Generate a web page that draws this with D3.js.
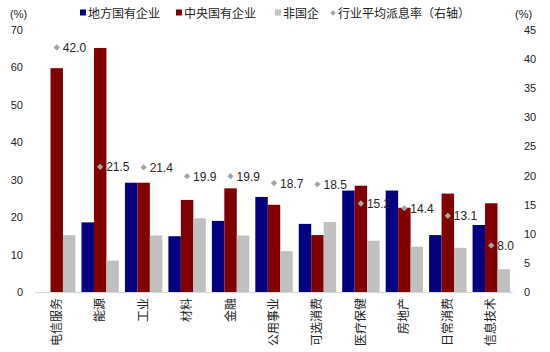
<!DOCTYPE html>
<html>
<head>
<meta charset="utf-8">
<script src="https://cdn.jsdelivr.net/npm/d3@7"></script>
<style>
  body { margin: 0; background: #fff; }
  svg text { font-family: "Liberation Sans", Arial, "Noto Sans CJK SC", sans-serif; }
</style>
</head>
<body>
<div id="chart"></div>
<script>
var categories = ["电信服务", "能源", "工业", "材料", "金融", "公用事业", "可选消费", "医疗保健", "房地产", "日常消费", "信息技术"];
var seriesNames = ["地方国有企业", "中央国有企业", "非国企"];
var localSOE = [0, 18.6, 29.2, 14.9, 19.0, 25.4, 18.2, 27.1, 27.1, 15.2, 17.9];
var centralSOE = [59.8, 65.2, 29.2, 24.6, 27.7, 23.3, 15.2, 28.4, 22.5, 26.3, 23.7];
var nonSOE = [15.2, 8.4, 15.1, 19.7, 15.1, 10.9, 18.7, 13.7, 12.1, 11.8, 6.1];
var payout = [42.0, 21.5, 21.4, 19.9, 19.9, 18.7, 18.5, 15.2, 14.4, 13.1, 8.0];
var leftTicks = [0, 10, 20, 30, 40, 50, 60, 70];
var rightTicks = [0, 5, 10, 15, 20, 25, 30, 35, 40, 45];
var colors = ["#000080", "#800000", "#c0c0c0"];

var width = 550, height = 352;
var svg = d3.select("#chart").append("svg")
  .attr("width", width)
  .attr("height", height);

var x0 = d3.scaleBand().domain(categories).range([35, 513]).paddingInner(0.14).paddingOuter(0.07);
var x1 = d3.scaleBand().domain(seriesNames).range([0, x0.bandwidth()]);
var yL = d3.scaleLinear().domain([0, 70]).range([292, 30]);
var yR = d3.scaleLinear().domain([0, 45]).range([292, 30]);

var rows = categories.map(function (c, i) {
  return { cat: c, vals: [localSOE[i], centralSOE[i], nonSOE[i]], payout: payout[i] };
});

// bars
var groups = svg.selectAll("g.grp")
  .data(rows).enter()
  .append("g")
  .attr("class", "grp")
  .attr("transform", d => "translate(" + x0(d.cat) + ",0)");

groups.selectAll("rect")
  .data(d => d.vals.map((v, j) => ({ v: v, s: seriesNames[j], j: j })))
  .enter().append("rect")
  .attr("x", d => x1(d.s))
  .attr("y", d => yL(d.v))
  .attr("width", x1.bandwidth())
  .attr("height", d => yL(0) - yL(d.v))
  .attr("fill", d => colors[d.j]);

// x axis line
svg.append("line")
  .attr("x1", 35).attr("x2", 513)
  .attr("y1", yL(0) + 0.5).attr("y2", yL(0) + 0.5)
  .attr("stroke", "#d9d9d9");

// left axis labels
svg.selectAll("text.lt")
  .data(leftTicks).enter()
  .append("text")
  .attr("class", "lt")
  .attr("x", 23)
  .attr("y", d => yL(d) + 4)
  .attr("text-anchor", "end")
  .attr("font-size", 11)
  .attr("fill", "#222")
  .text(d => d);

svg.selectAll("text.rt")
  .data(rightTicks).enter()
  .append("text")
  .attr("class", "rt")
  .attr("x", 524)
  .attr("y", d => yR(d) + 4)
  .attr("font-size", 11)
  .attr("fill", "#222")
  .text(d => d);

svg.append("text").attr("x", 10).attr("y", 18).attr("font-size", 11).attr("fill", "#222").text("(%)");
svg.append("text").attr("x", 515).attr("y", 18).attr("font-size", 11).attr("fill", "#222").text("(%)");

// category labels (rotated)
svg.selectAll("text.cat")
  .data(categories).enter()
  .append("text")
  .attr("class", "cat")
  .attr("transform", d => "translate(" + (x0(d) + x0.bandwidth() / 2 + 4) + ",298) rotate(-90)")
  .attr("text-anchor", "end")
  .attr("font-size", 12)
  .attr("fill", "#222")
  .text(d => d);

// payout diamonds + labels
var diamond = d3.symbol().type(d3.symbolSquare).size(20);
svg.selectAll("path.dia")
  .data(rows).enter()
  .append("path")
  .attr("class", "dia")
  .attr("d", diamond)
  .attr("transform", d => "translate(" + (x0(d.cat) + x0.bandwidth() / 2) + "," + yR(d.payout) + ") rotate(45)")
  .attr("fill", "#a6a6a6");

svg.selectAll("text.pl")
  .data(rows).enter()
  .append("text")
  .attr("class", "pl")
  .attr("x", d => x0(d.cat) + x0.bandwidth() / 2 + 6)
  .attr("y", d => yR(d.payout) + 4.5)
  .attr("font-size", 12)
  .attr("fill", "#262626")
  .text(d => d.payout.toFixed(1));

// legend
var legendItems = [
  { name: "地方国有企业", x: 80, type: "sq", color: colors[0] },
  { name: "中央国有企业", x: 176, type: "sq", color: colors[1] },
  { name: "非国企", x: 275, type: "sq", color: colors[2] },
  { name: "行业平均派息率（右轴）", x: 330, type: "dia", color: "#a6a6a6" }
];
var leg = svg.selectAll("g.leg")
  .data(legendItems).enter()
  .append("g")
  .attr("class", "leg")
  .attr("transform", d => "translate(" + d.x + ",13)");

leg.filter(d => d.type == "sq")
  .append("rect")
  .attr("x", 0).attr("y", -3.5)
  .attr("width", 6).attr("height", 6)
  .attr("fill", d => d.color);

leg.filter(d => d.type == "dia")
  .append("path")
  .attr("d", d3.symbol().type(d3.symbolSquare).size(14))
  .attr("transform", "translate(3,0) rotate(45)")
  .attr("fill", d => d.color);

leg.append("text")
  .attr("x", 8)
  .attr("y", 4.5)
  .attr("font-size", 12)
  .attr("fill", "#222")
  .text(d => d.name);
</script>
</body>
</html>
